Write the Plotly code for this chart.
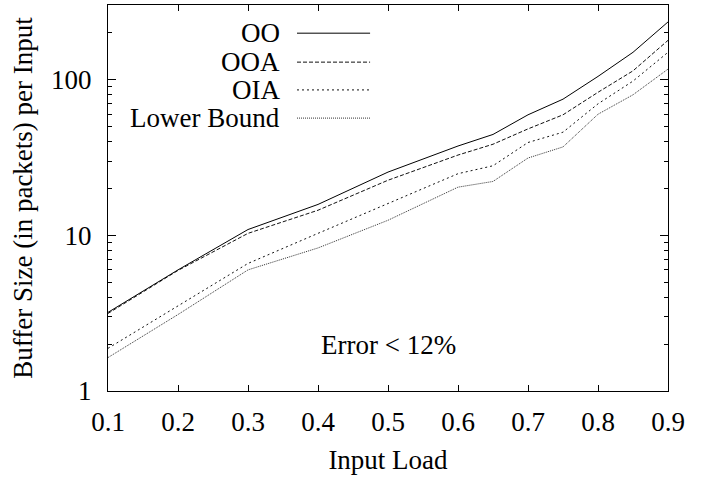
import plotly.graph_objects as go

load = [0.1, 0.2, 0.3, 0.4, 0.5, 0.6, 0.65, 0.7, 0.75, 0.8, 0.85, 0.9]
oo = [3.2, 6.0, 10.9, 15.8, 25.5, 37.5, 44.5, 59.5, 75, 105, 150, 235]
ooa = [3.15, 5.95, 10.3, 14.5, 22.6, 32.8, 38.5, 48.3, 59.5, 83, 114, 179]
oia = [1.88, 3.5, 6.6, 10.3, 16.0, 24.9, 28.0, 39.5, 46, 70, 98, 150]
lower = [1.64, 3.1, 6.0, 8.3, 12.5, 20.4, 22.2, 31.4, 37, 60, 80, 117]

names = ["OO", "OOA", "OIA", "Lower Bound"]
series = [oo, ooa, oia, lower]
dashes = ["solid", "4px,2px", "2px,3px", "1px,1px"]
colors = ["#000000", "#111111", "#111111", "#333333"]
tick_vals = [0.1, 0.2, 0.3, 0.4, 0.5, 0.6, 0.7, 0.8, 0.9]
y_major = [1, 10, 100]
y_minor = [2, 3, 4, 5, 6, 7, 8, 9, 20, 30, 40, 50, 60, 70, 80, 90, 200, 300]

FONT = "Times New Roman, Liberation Serif, DejaVu Serif, serif"
ANN_FONT = "Times New Roman"
FS = 27

fig = go.Figure()
for n, s, d, c in zip(names, series, dashes, colors):
    fig.add_trace(go.Scatter(x=load, y=s, mode="lines", name=n,
                             line=dict(color=c, width=1, dash=d),
                             showlegend=False))

# manual legend (text left of sample line)
leg_y = [0.927, 0.852, 0.780, 0.707]
for n, d, c, yy in zip(names, dashes, colors, leg_y):
    fig.add_annotation(x=0.311, y=yy, xref="paper", yref="paper", text=n,
                       showarrow=False, xanchor="right", yanchor="middle",
                       font=dict(family=ANN_FONT, size=FS, color="black"))
    fig.add_shape(type="line", xref="paper", yref="paper",
                  x0=0.3375, x1=0.468, y0=yy, y1=yy,
                  line=dict(color=c, width=1, dash=d))

fig.add_annotation(x=0.5, y=0.119, xref="x", yref="paper", text="Error &lt; 12%",
                   showarrow=False, xanchor="center", yanchor="middle",
                   font=dict(family=ANN_FONT, size=FS, color="black"))

fig.update_layout(
    width=704, height=481,
    margin=dict(l=108, r=36, t=5, b=90),
    paper_bgcolor="white", plot_bgcolor="white",
    font=dict(family=FONT, size=FS, color="black"),
    xaxis=dict(range=[0.1, 0.9], tickvals=tick_vals, ticktext=[str(v) for v in tick_vals],
               ticks="inside", ticklen=6, tickwidth=1, tickcolor="black",
               showline=True, linecolor="black", linewidth=1.3, mirror="ticks",
               showgrid=False, zeroline=False, ticklabelstandoff=6, automargin=False,
               title=dict(text="Input Load", font=dict(family=FONT, size=FS), standoff=14)),
    yaxis=dict(type="log", range=[0, 2.48], tickvals=y_major, ticktext=[str(v) for v in y_major],
               ticks="inside", ticklen=8, tickwidth=1, tickcolor="black",
               minor=dict(tickvals=y_minor, ticks="inside", ticklen=4, tickwidth=1,
                          tickcolor="black", showgrid=False),
               showline=True, linecolor="black", linewidth=1.3, mirror="ticks",
               showgrid=False, zeroline=False, ticklabelstandoff=10, automargin=False,
               title=dict(text="Buffer Size (in packets) per Input", font=dict(family=FONT, size=FS), standoff=10)),
)

fig.write_html("out.html", config={"displayModeBar": False},
               post_script="document.body.style.margin='0';")
